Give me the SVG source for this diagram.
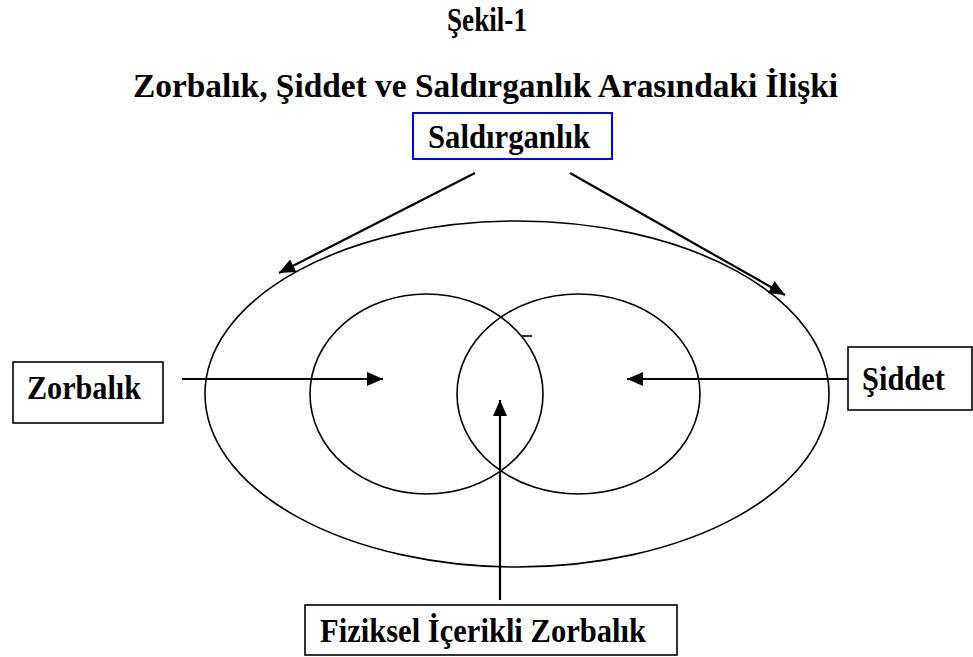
<svg xmlns="http://www.w3.org/2000/svg" width="973" height="657" viewBox="0 0 973 657">
<style>
text{font-family:"Liberation Serif","Times New Roman",serif;font-weight:bold;font-size:34px;fill:#000}
.shape{fill:none;stroke:#000;stroke-width:1.6}
.box{fill:#fff;stroke:#000;stroke-width:1.6}
.conn{stroke:#000;stroke-width:2.2;fill:none}
</style>
<defs>
<marker id="ah" viewBox="0 0 16 14" refX="16" refY="7" markerWidth="16" markerHeight="14" markerUnits="userSpaceOnUse" orient="auto">
<path d="M0,0 L16,7 L0,14 Z" fill="#000"/>
</marker>
</defs>
<rect width="973" height="657" fill="#fff"/>
<g id="title">
<text x="487" y="31" text-anchor="middle" textLength="80" lengthAdjust="spacingAndGlyphs">Şekil-1</text>
<text x="485.5" y="97" text-anchor="middle" textLength="705" lengthAdjust="spacingAndGlyphs">Zorbalık, Şiddet ve Saldırganlık Arasındaki İlişki</text>
</g>
<g id="outer-ellipse"><ellipse class="shape" cx="517" cy="394" rx="312" ry="173"/></g>
<g id="left-circle"><ellipse class="shape" cx="426.5" cy="394" rx="116.5" ry="100"/></g>
<g id="right-circle"><ellipse class="shape" cx="578.5" cy="394" rx="121.5" ry="100"/></g>
<g id="tick"><line class="shape" x1="522" y1="336" x2="532" y2="336"/></g>
<g id="connectors">
<line class="conn" x1="475" y1="173" x2="279" y2="273" marker-end="url(#ah)"/>
<line class="conn" x1="570" y1="173" x2="785" y2="295" marker-end="url(#ah)"/>
<line class="conn" x1="182" y1="379" x2="383" y2="379" marker-end="url(#ah)"/>
<line class="conn" x1="848" y1="379" x2="627" y2="379" marker-end="url(#ah)"/>
<line class="conn" x1="500" y1="600" x2="500" y2="400" marker-end="url(#ah)"/>
</g>
<g id="node-saldirganlik">
<rect x="413" y="113" width="199" height="46" fill="#fff" stroke="#0000ff" stroke-width="2"/>
<text x="428" y="148" textLength="162" lengthAdjust="spacingAndGlyphs">Saldırganlık</text>
</g>
<g id="node-zorbalik">
<rect class="box" x="13" y="362" width="150" height="61"/>
<text x="27" y="399" textLength="114" lengthAdjust="spacingAndGlyphs">Zorbalık</text>
</g>
<g id="node-siddet">
<rect class="box" x="848" y="347" width="124" height="63"/>
<text x="862" y="390" textLength="83" lengthAdjust="spacingAndGlyphs">Şiddet</text>
</g>
<g id="node-fiziksel">
<rect class="box" x="305" y="605" width="372" height="50"/>
<text x="320" y="642" textLength="326" lengthAdjust="spacingAndGlyphs">Fiziksel İçerikli Zorbalık</text>
</g>
</svg>
